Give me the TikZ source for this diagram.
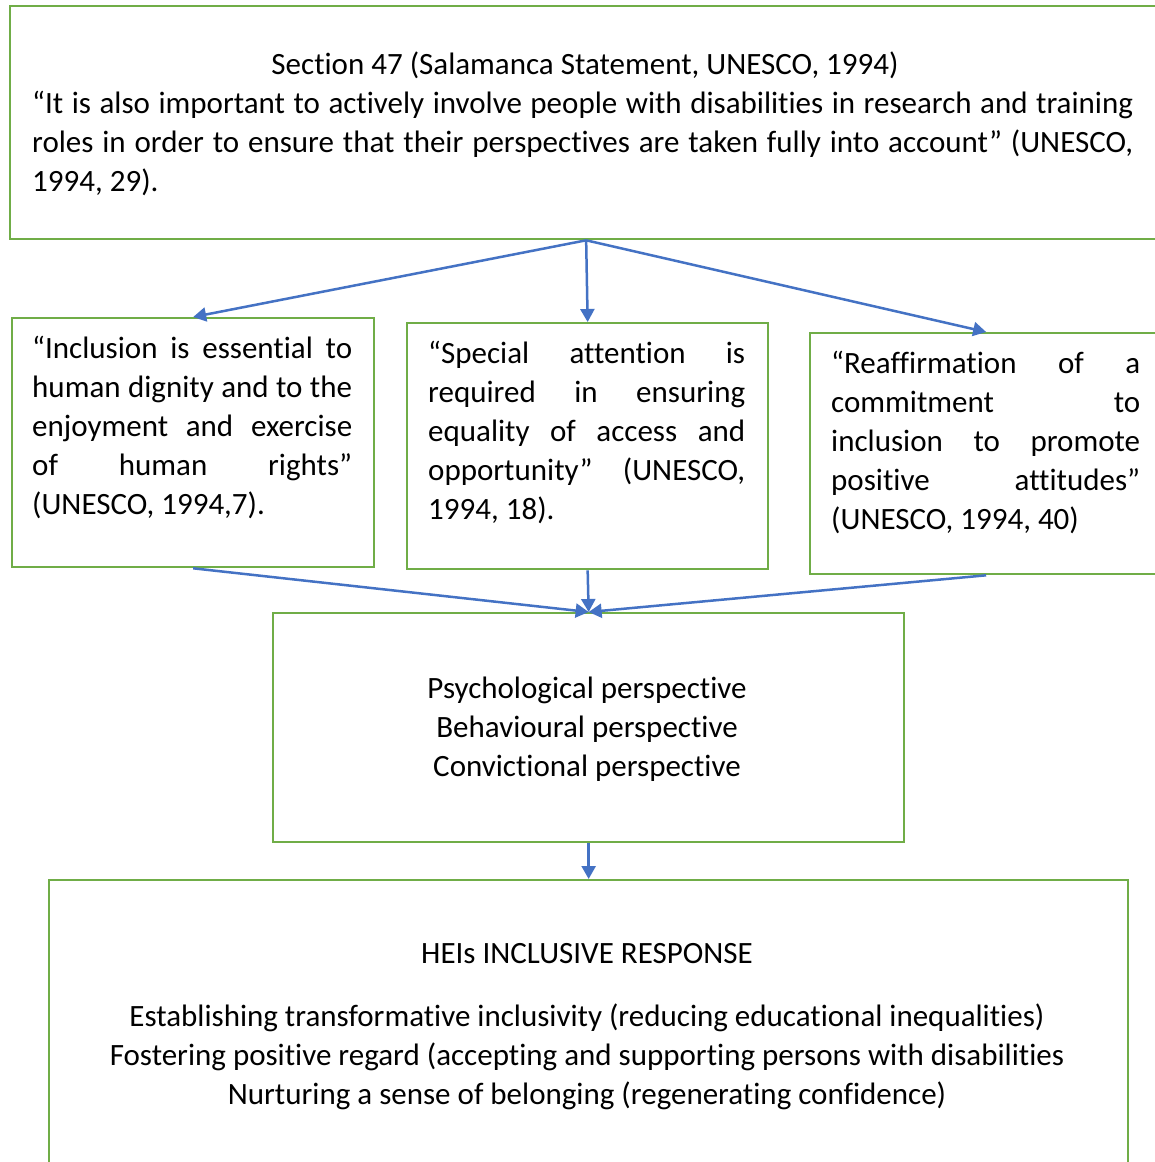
\documentclass[tikz,border=0pt]{standalone}
\usepackage{fontspec}
\setmainfont{Carlito}[RawFeature={-liga;-clig;-calt;-dlig}]
\usetikzlibrary{arrows.meta}
\definecolor{boxgreen}{HTML}{70AD47}
\definecolor{arrowblue}{HTML}{4472C4}
\newcommand{\jline}[2]{\makebox[#1][s]{#2}}
\begin{document}
\begin{tikzpicture}[x=1pt,y=-1pt,
  box/.style={draw=boxgreen, line width=2.3pt, inner sep=0pt, anchor=north west},
  txt/.style={inner sep=0pt, align=left, font=\fontsize{31}{39}\selectfont},
  arr/.style={draw=arrowblue, line width=2.5pt, -{Triangle[length=13pt,width=14pt]}},
]
\useasboundingbox (0,0) rectangle (1155,1162);
\fill[white] (0,0) rectangle (1155,1162);

% boxes
\node[box, minimum width=1152pt, minimum height=233pt] (top) at (9,5) {};
\node[box, minimum width=362pt, minimum height=249pt] (left) at (11,317) {};
\node[box, minimum width=361pt, minimum height=246pt] (mid) at (406,322) {};
\node[box, minimum width=352pt, minimum height=241pt] (right) at (809,332) {};
\node[box, minimum width=631pt, minimum height=229pt] (persp) at (272,612) {};
\node[box, minimum width=1079pt, minimum height=300pt] (hei) at (48,879) {};

% texts (base anchor = baseline of the last line)
\node[txt, anchor=base] (toptitle) at (585,74) {Section 47 (Salamanca Statement, UNESCO, 1994)};
\node[txt, anchor=base west] (topbody) at (32,191) {%
\jline{1101pt}{“It is also important to actively involve people with disabilities in research and training}\\
\jline{1101pt}{roles in order to ensure that their perspectives are taken fully into account” (UNESCO,}\\
1994, 29).};

\node[txt, anchor=base west] (lefttext) at (32,514) {%
\jline{320pt}{“Inclusion is essential to}\\
\jline{320pt}{human dignity and to the}\\
\jline{320pt}{enjoyment and exercise}\\
\jline{320pt}{of human rights”}\\
(UNESCO, 1994,7).};

\node[txt, anchor=base west] (midtext) at (428,519) {%
\jline{317pt}{“Special attention is}\\
\jline{317pt}{required in ensuring}\\
\jline{317pt}{equality of access and}\\
\jline{317pt}{opportunity” (UNESCO,}\\
1994, 18).};

\node[txt, anchor=base west] (righttext) at (831,529) {%
\jline{309pt}{“Reaffirmation of a}\\
\jline{309pt}{commitment to}\\
\jline{309pt}{inclusion to promote}\\
\jline{309pt}{positive attitudes”}\\
(UNESCO, 1994, 40)};

\node[txt, align=center, anchor=base] (persptext) at (587,776) {Psychological perspective\\Behavioural perspective\\Convictional perspective};

\node[txt, anchor=base] (heititle) at (587,963) {HEIs INCLUSIVE RESPONSE};
\node[txt, align=center, anchor=base] (heitext) at (587,1104) {Establishing transformative inclusivity (reducing educational inequalities)\\Fostering positive regard (accepting and supporting persons with disabilities\\Nurturing a sense of belonging (regenerating confidence)};

% connectors
\draw[arr] (top.south) -- (left.north);
\draw[arr] (top.south) -- (mid.north);
\draw[arr] (top.south) -- (right.north);
\draw[arr] (left.south) -- (persp.north);
\draw[arr] (mid.south) -- (persp.north);
\draw[arr] (right.south) -- (persp.north);
\draw[arr] (persp.south) -- (hei.north);
\end{tikzpicture}
\end{document}
